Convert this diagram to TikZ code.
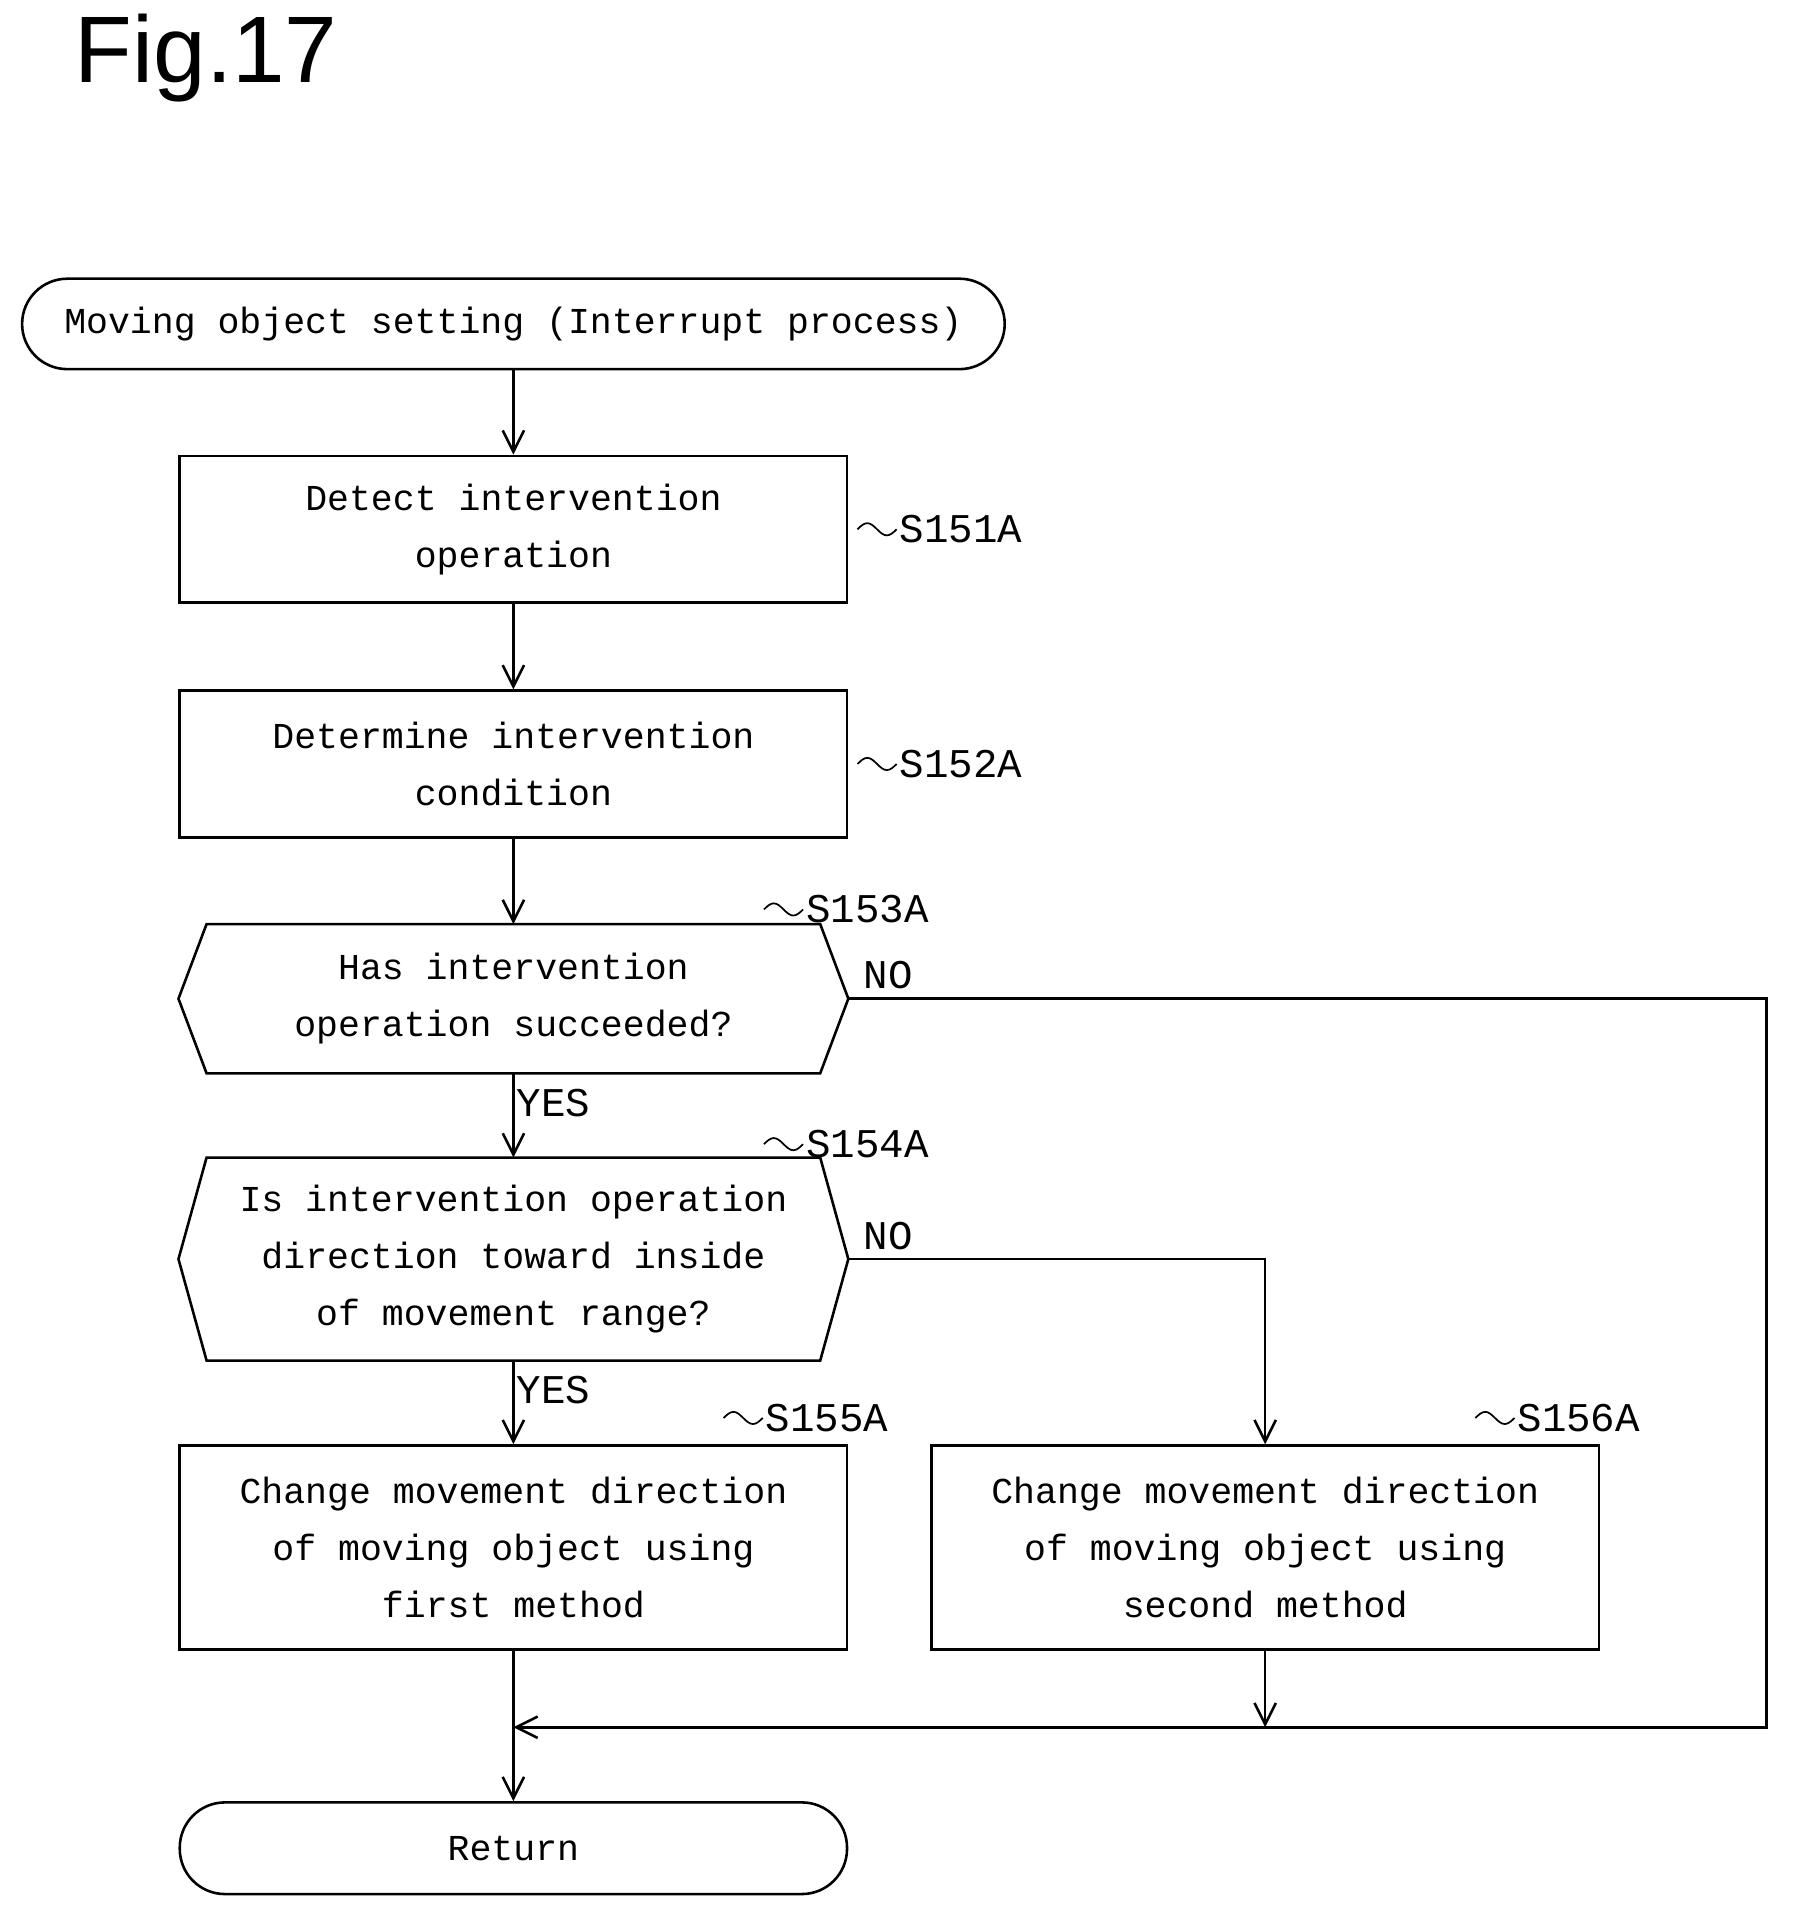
\documentclass[tikz,border=0pt]{standalone}
\usepackage{fontspec}
\setmainfont{Liberation Sans}
\setmonofont{Liberation Mono}
\usetikzlibrary{positioning,arrows.meta}
\tikzset{
	box/.style={draw, line width=1.2pt, minimum width=10.92cm, minimum height=2.4cm, align=center, font=\fontsize{17}{26.7}\selectfont\ttfamily, inner sep=0pt},
	term/.style={box, rounded corners=0.74cm, minimum height=1.48cm},
	cond/.style={box, draw=none},
	lbl/.style={font=\fontsize{19}{22}\selectfont\ttfamily, anchor=west, inner sep=1pt},
	flow/.style={line width=1.2pt, -{Straight Barb[length=0.35cm, width=0.35cm]}},
	line/.style={line width=1.2pt}
}
\begin{document}
\begin{tikzpicture}[x=0.02cm, y=-0.02cm]
	\useasboundingbox (0,0) rectangle (1470,1574);
	\node [anchor=north west, font=\fontsize{44}{50}\selectfont] (fig) at (55,5) {Fig.17};

	% schritte
	\node [term, minimum width=16.08cm] (start) at (420,265) {Moving object setting (Interrupt process)};
	\node [box] (s1) at (420,433) {Detect intervention\\operation};
	\node [box] (s2) at (420,625) {Determine intervention\\condition};
	\node [cond] (d1) at (420,817) {Has intervention\\operation succeeded?};
	\node [cond, minimum height=3.28cm] (d2) at (420,1030) {Is intervention operation\\direction toward inside\\of movement range?};
	\node [box, minimum height=3.34cm] (s5) at (420,1266) {Change movement direction\\of moving object using\\first method};
	\node [box, minimum height=3.34cm] (s6) at (1035,1266) {Change movement direction\\of moving object using\\second method};
	\node [term, minimum width=10.92cm, minimum height=1.5cm] (ret) at (420,1512) {Return};

	% sechsecke
	\draw [line] (d1.west) -- ([xshift=0.46cm]d1.north west) -- ([xshift=-0.46cm]d1.north east) -- (d1.east) -- ([xshift=-0.46cm]d1.south east) -- ([xshift=0.46cm]d1.south west) -- cycle;
	\draw [line] (d2.west) -- ([xshift=0.46cm]d2.north west) -- ([xshift=-0.46cm]d2.north east) -- (d2.east) -- ([xshift=-0.46cm]d2.south east) -- ([xshift=0.46cm]d2.south west) -- cycle;

	% bezeichner
	\draw [line width=0.8pt] ([xshift=0.15cm]s1.east) sin ++(8,-5) cos ++(8,5) sin ++(8,5) cos ++(8,-5) node [lbl] {S151A};
	\draw [line width=0.8pt] ([xshift=0.15cm]s2.east) sin ++(8,-5) cos ++(8,5) sin ++(8,5) cos ++(8,-5) node [lbl] {S152A};
	\draw [line width=0.8pt] (625,744) sin ++(8,-5) cos ++(8,5) sin ++(8,5) cos ++(8,-5) node [lbl] {S153A};
	\draw [line width=0.8pt] (625,936) sin ++(8,-5) cos ++(8,5) sin ++(8,5) cos ++(8,-5) node [lbl] {S154A};
	\draw [line width=0.8pt] (592,1160) sin ++(8,-5) cos ++(8,5) sin ++(8,5) cos ++(8,-5) node [lbl] {S155A};
	\draw [line width=0.8pt] (1207,1160) sin ++(8,-5) cos ++(8,5) sin ++(8,5) cos ++(8,-5) node [lbl] {S156A};

	% verbindungen
	\coordinate (m) at (420,1413);
	\coordinate (m2) at (1035,1413);
	\draw [flow] (start) -- (s1);
	\draw [flow] (s1) -- (s2);
	\draw [flow] (s2) -- (d1);
	\draw [flow] (d1) -- node [lbl, pos=0.35] {YES} (d2);
	\draw [flow] (d2) -- node [lbl, pos=0.35] {YES} (s5);
	\draw [flow] (d2.east) node [lbl, above right=0.1cm and 0.2cm] {NO} -| (s6.north);
	\draw [line] (d1.east) node [lbl, above right=0.1cm and 0.2cm] {NO} -| (1445,1413) -- (m2);
	\draw [flow] (m2) -- (m);
	\draw [flow] (s6.south) -- (m2);
	\draw [flow] (s5) -- (ret);
\end{tikzpicture}
\end{document}
